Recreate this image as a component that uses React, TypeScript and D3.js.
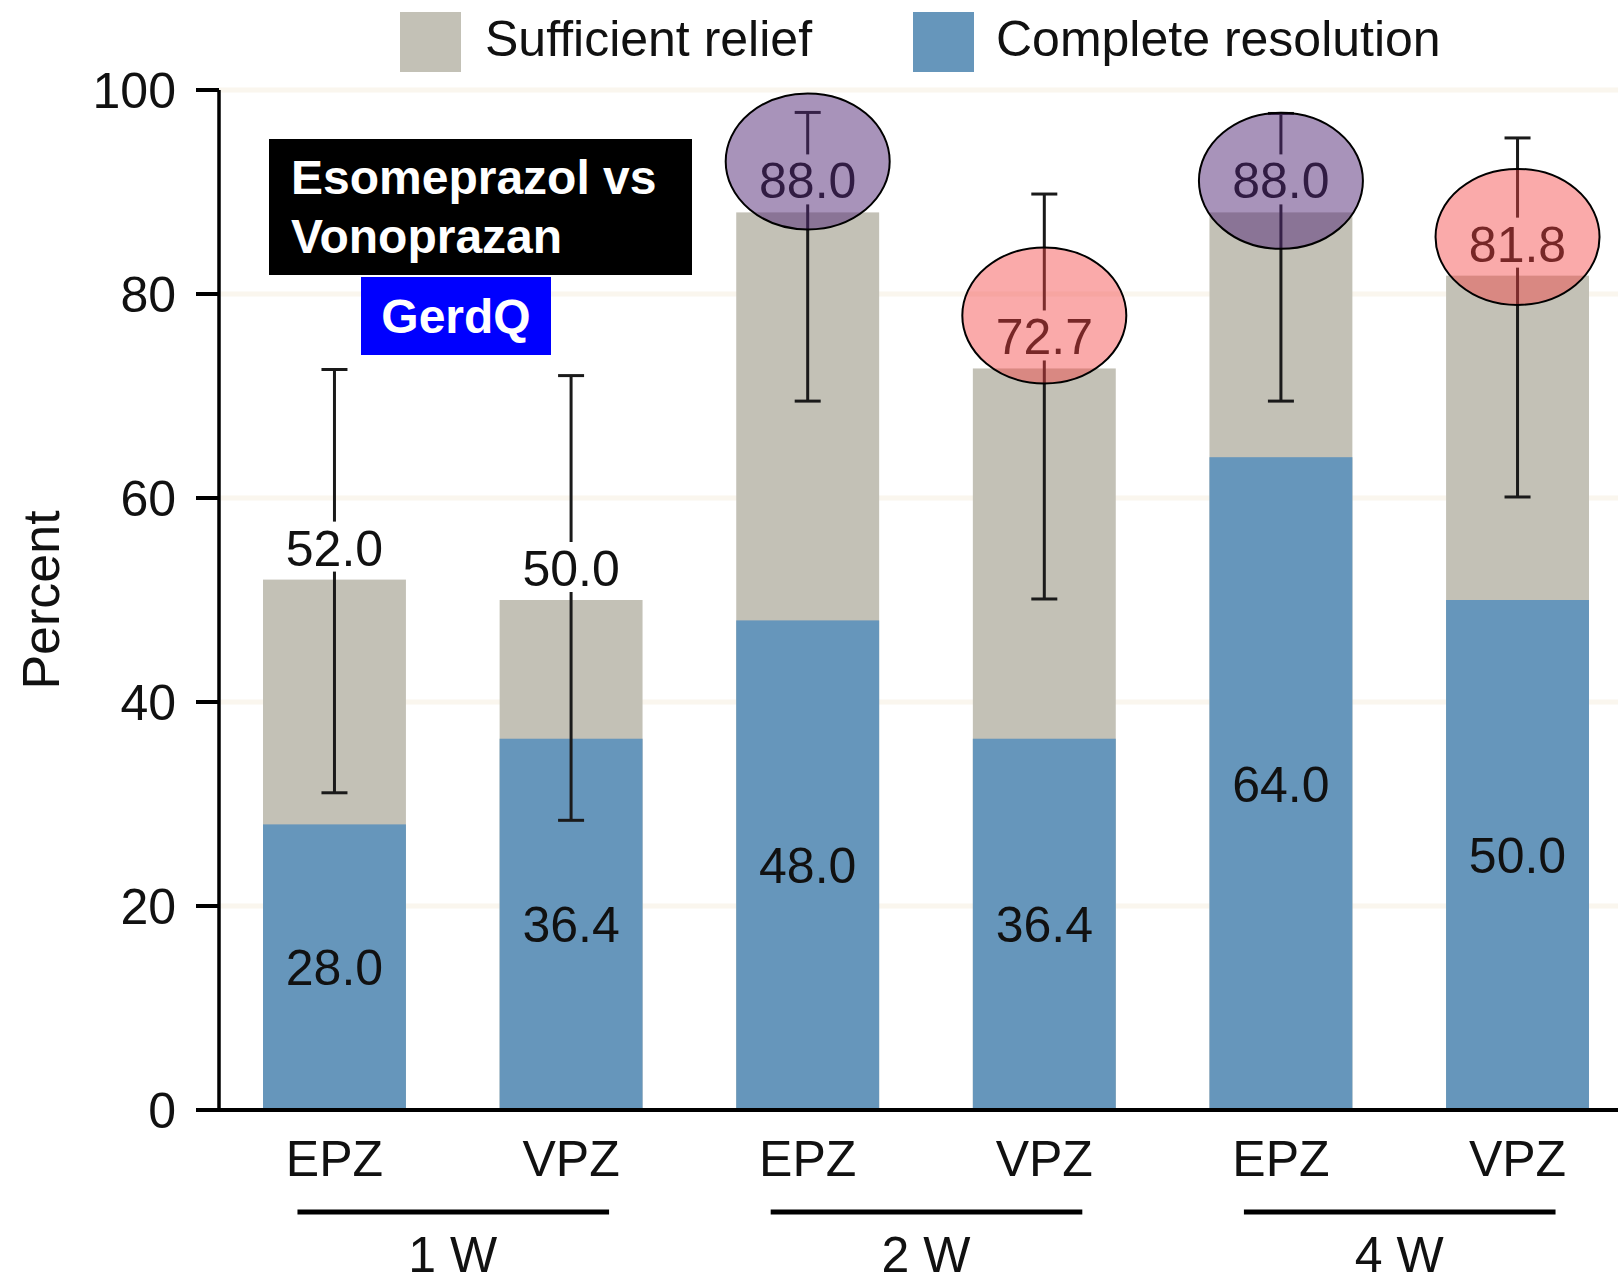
import React from "react";
import * as d3 from "d3";

const categories = ["EPZ", "VPZ", "EPZ", "VPZ", "EPZ", "VPZ"];
const weeks = ["1 W", "2 W", "4 W"];
const completeResolution = [28.0, 36.4, 48.0, 36.4, 64.0, 50.0];
const sufficientRelief = [52.0, 50.0, 88.0, 72.7, 88.0, 81.8];
const ciLow = [31.1, 28.4, 69.5, 50.1, 69.5, 60.1];
const ciHigh = [72.6, 72.0, 97.8, 89.8, 97.7, 95.3];
const yTicks = [0, 20, 40, 60, 80, 100];
const legendLabels = ["Sufficient relief", "Complete resolution"];
const highlightBars = [2, 3, 4, 5];
const highlightCenters = [93.0, 77.9, 91.1, 85.6];
const highlightKinds = ["purple", "pink", "purple", "pink"];

const W = 1618;
const H = 1282;
const FONT = "'Liberation Sans', Arial, Helvetica, sans-serif";
const GREY = "#C3C1B6";
const BLUE = "#6696BB";
const HL_FILL: Record<string, string> = {
  purple: "rgba(81,39,117,0.5)",
  pink: "rgba(244,66,66,0.45)",
};

export default function App() {
  const keys = categories.map((_, i) => String(i));
  const x = d3
    .scaleBand<string>()
    .domain(keys)
    .range([219, 1633])
    .paddingInner(0.396)
    .paddingOuter(0.186);
  const y = d3.scaleLinear().domain([0, 100]).range([1110, 90]);
  const bw = x.bandwidth();
  const cx = (i: number) => (x(String(i)) as number) + bw / 2;

  return (
    <svg
      width={W}
      height={H}
      style={{ position: "absolute", left: 0, top: 0, background: "#fff" }}
      fontFamily={FONT}
    >
      <rect x={0} y={0} width={W} height={H} fill="#fff" />
      {/* gridlines */}
      {yTicks.filter((t) => t > 0).map((t) => (
        <line key={"g" + t} x1={219} x2={W} y1={y(t)} y2={y(t)} stroke="#FAF6EE" strokeWidth={5} />
      ))}

      {/* legend */}
      <rect x={400} y={12} width={61} height={60} fill={GREY} />
      <text x={485} y={56} fontSize={50} fill="#111">{legendLabels[0]}</text>
      <rect x={913} y={12} width={61} height={60} fill={BLUE} />
      <text x={996} y={56} fontSize={50} fill="#111">{legendLabels[1]}</text>

      {/* bars */}
      {keys.map((k, i) => (
        <g key={"b" + k}>
          <rect
            x={x(k)}
            y={y(sufficientRelief[i])}
            width={bw}
            height={y(0) - y(sufficientRelief[i])}
            fill={GREY}
          />
          <rect
            x={x(k)}
            y={y(completeResolution[i])}
            width={bw}
            height={y(0) - y(completeResolution[i])}
            fill={BLUE}
          />
        </g>
      ))}

      {/* error bars */}
      {keys.map((k, i) => (
        <g key={"e" + k} stroke="#1a1a1a" strokeWidth={3}>
          <line x1={cx(i)} x2={cx(i)} y1={y(ciHigh[i])} y2={y(ciLow[i])} />
          <line x1={cx(i) - 13} x2={cx(i) + 13} y1={y(ciHigh[i])} y2={y(ciHigh[i])} />
          <line x1={cx(i) - 13} x2={cx(i) + 13} y1={y(ciLow[i])} y2={y(ciLow[i])} />
        </g>
      ))}

      {/* total labels with white background */}
      {keys.map((k, i) => {
        const base = y(sufficientRelief[i]) - 14;
        return (
          <g key={"t" + k}>
            <rect x={cx(i) - 50} y={base - 44} width={100} height={50} fill="#fff" />
            <text x={cx(i)} y={base} fontSize={50} textAnchor="middle" fill="#111">
              {sufficientRelief[i].toFixed(1)}
            </text>
          </g>
        );
      })}

      {/* inner labels */}
      {keys.map((k, i) => (
        <text
          key={"c" + k}
          x={cx(i)}
          y={(y(0) + y(completeResolution[i])) / 2}
          dy="0.36em"
          fontSize={50}
          textAnchor="middle"
          fill="#111"
        >
          {completeResolution[i].toFixed(1)}
        </text>
      ))}

      {/* axes */}
      <line x1={219} x2={219} y1={y(100)} y2={y(0)} stroke="#000" strokeWidth={3.5} />
      <line x1={196} x2={W} y1={y(0)} y2={y(0)} stroke="#000" strokeWidth={4} />
      {yTicks.map((t) => (
        <g key={"yt" + t}>
          <line x1={196} x2={219} y1={y(t)} y2={y(t)} stroke="#000" strokeWidth={4} />
          <text x={176} y={y(t)} dy="0.36em" fontSize={50} textAnchor="end" fill="#111">
            {t}
          </text>
        </g>
      ))}
      <text
        transform={`translate(40,${(y(0) + y(100)) / 2}) rotate(-90)`}
        dy="0.36em"
        fontSize={52}
        textAnchor="middle"
        fill="#111"
      >
        Percent
      </text>

      {/* x labels */}
      {keys.map((k, i) => (
        <text key={"xl" + k} x={cx(i)} y={1176} fontSize={50} textAnchor="middle" fill="#111">
          {categories[i]}
        </text>
      ))}
      {weeks.map((w, g) => {
        const a = cx(g * 2);
        const b = cx(g * 2 + 1);
        return (
          <g key={"w" + w}>
            <line x1={a - 37} x2={b + 38} y1={1212} y2={1212} stroke="#000" strokeWidth={5} />
            <text x={(a + b) / 2} y={1272} fontSize={50} textAnchor="middle" fill="#111">
              {w}
            </text>
          </g>
        );
      })}

      {/* highlight ellipses */}
      {highlightBars.map((bi, j) => (
        <ellipse
          key={"h" + j}
          cx={cx(bi)}
          cy={y(highlightCenters[j])}
          rx={82}
          ry={68}
          fill={HL_FILL[highlightKinds[j]]}
          stroke="#000"
          strokeWidth={2}
        />
      ))}

      {/* annotation boxes */}
      <rect x={269} y={139} width={423} height={136} fill="#000" />
      <text x={291} y={194} fontSize={48} fontWeight="bold" fill="#fff">Esomeprazol vs</text>
      <text x={291} y={253} fontSize={48} fontWeight="bold" fill="#fff">Vonoprazan</text>
      <rect x={361} y={277} width={190} height={78} fill="#0000FF" />
      <text x={456} y={333} fontSize={48} fontWeight="bold" fill="#fff" textAnchor="middle">GerdQ</text>
    </svg>
  );
}
